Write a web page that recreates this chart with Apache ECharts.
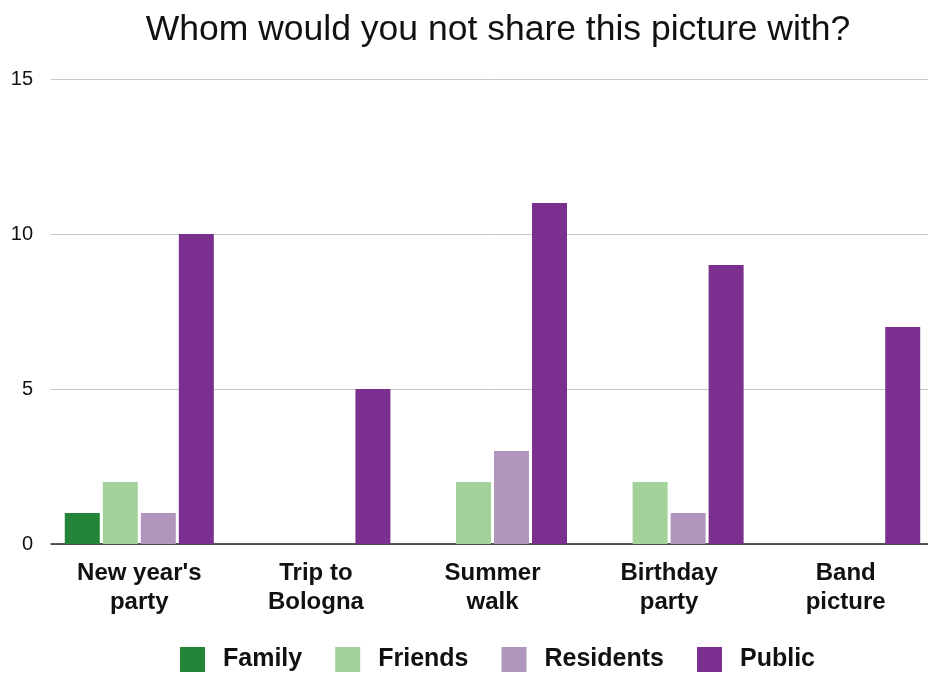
<!DOCTYPE html>
<html>
<head>
<meta charset="utf-8">
<script src="https://cdn.jsdelivr.net/npm/echarts@6/dist/echarts.min.js"></script>
<style>
html, body { margin: 0; padding: 0; background: #fff; overflow: hidden; }
#main { width: 934px; height: 673px; }
</style>
</head>
<body>
<div id="main"></div>
<script>
var categories = ["New year's\nparty", 'Trip to\nBologna', 'Summer\nwalk', 'Birthday\nparty', 'Band\npicture'];
var family = [1, 0, 0, 0, 0];
var friends = [2, 0, 2, 2, 0];
var residents = [1, 0, 3, 1, 0];
var publicVals = [10, 5, 11, 9, 7];
var yTicks = [0, 5, 10, 15];

// chart div is a little wider than the window so the last category bleeds off the right edge
var chart = echarts.init(document.getElementById('main'));
var font = '"Liberation Sans", Arial, sans-serif';

function bar(name, data, color) {
    return {
        name: name,
        type: 'bar',
        data: data,
        barWidth: 35,
        barGap: '8.6%',
        itemStyle: { color: color }
    };
}

var option = {
    animation: false,
    title: {
        text: 'Whom would you not share this picture with?',
        left: 493,
        textAlign: 'center',
        top: 7,
        textStyle: { fontFamily: font, fontSize: 35.5, fontWeight: 'normal', color: '#111' }
    },
    legend: {
        top: 642,
        left: 175,
        itemWidth: 25,
        itemHeight: 25,
        itemGap: 33,
        icon: 'rect',
        textStyle: { fontFamily: font, fontSize: 25, fontWeight: 'bold', color: '#111', padding: [0, 0, 0, 13] }
    },
    grid: { left: 51, top: 79, right: 0, height: 465, containLabel: false },
    xAxis: {
        type: 'category',
        data: categories,
        axisLine: { lineStyle: { color: '#222', width: 1.5 } },
        axisTick: { show: false },
        axisLabel: {
            fontFamily: font, fontSize: 24, fontWeight: 'bold', color: '#111',
            lineHeight: 29, margin: 15, interval: 0
        }
    },
    yAxis: {
        type: 'value',
        min: yTicks[0],
        max: yTicks[yTicks.length - 1],
        interval: 5,
        axisLine: { show: false },
        axisTick: { show: false },
        splitLine: { lineStyle: { color: '#c8c8c8', width: 1 } },
        axisLabel: { fontFamily: font, fontSize: 20, color: '#111', margin: 18 }
    },
    series: [
        bar('Family', family, '#238538'),
        bar('Friends', friends, '#a2d29a'),
        bar('Residents', residents, '#b096bd'),
        bar('Public', publicVals, '#7b2f8f')
    ]
};

chart.setOption(option);
window.addEventListener('resize', function () { chart.resize(); });
</script>
</body>
</html>
